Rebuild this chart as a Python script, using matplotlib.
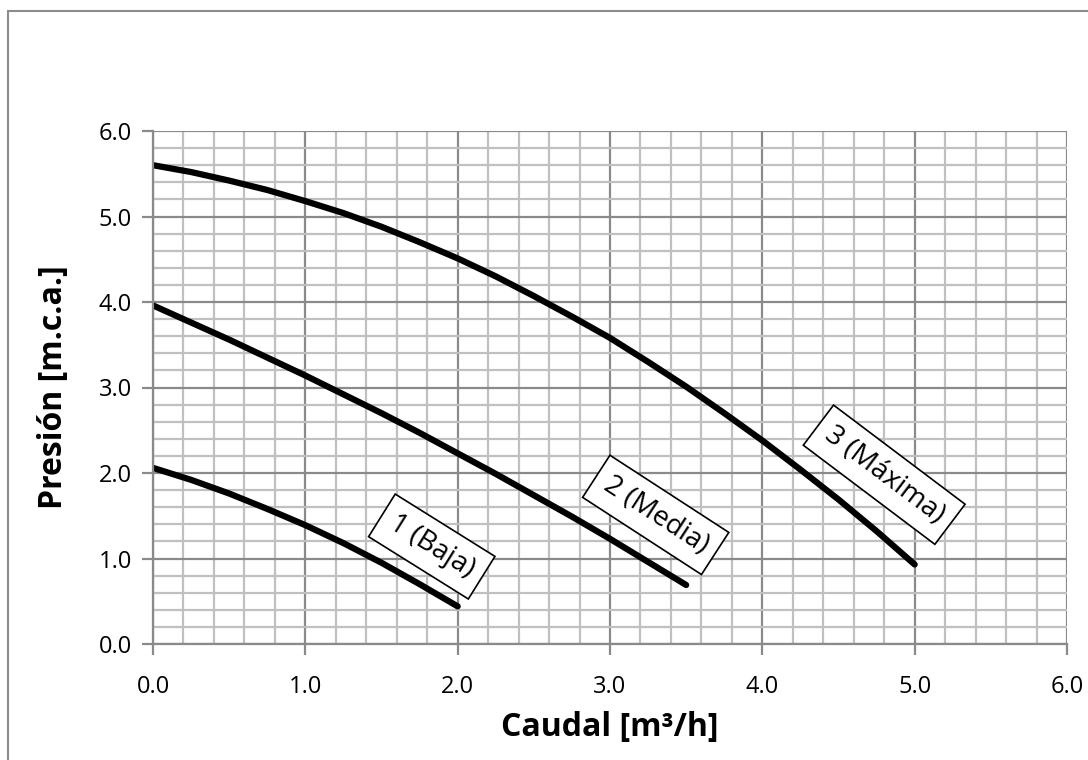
import matplotlib
matplotlib.use("Agg")
import matplotlib.pyplot as plt
from matplotlib.ticker import MultipleLocator, FormatStrFormatter
from matplotlib.patches import Rectangle

# Data
q_baja = [0.0, 0.25, 0.5, 0.75, 1.0, 1.25, 1.5, 1.75, 2.0]
h_baja = [2.06, 1.92, 1.76, 1.58, 1.39, 1.18, 0.95, 0.70, 0.44]

q_media = [0.0, 0.25, 0.5, 0.75, 1.0, 1.25, 1.5, 1.75, 2.0, 2.25, 2.5, 2.75, 3.0, 3.25, 3.5]
h_media = [3.96, 3.76, 3.56, 3.35, 3.14, 2.92, 2.70, 2.47, 2.23, 1.99, 1.74, 1.49, 1.23, 0.96, 0.69]

q_maxima = [0.0, 0.25, 0.5, 0.75, 1.0, 1.25, 1.5, 1.75, 2.0, 2.25, 2.5, 2.75,
            3.0, 3.25, 3.5, 3.75, 4.0, 4.25, 4.5, 4.75, 5.0]
h_maxima = [5.60, 5.52, 5.42, 5.31, 5.18, 5.04, 4.88, 4.70, 4.51, 4.30, 4.07, 3.83,
            3.58, 3.30, 3.01, 2.70, 2.38, 2.04, 1.69, 1.32, 0.93]

labels = ["1 (Baja)", "2 (Media)", "3 (Máxima)"]
label_pos = [(1.83, 1.14), (3.30, 1.51), (4.80, 1.98)]
label_rot = [-32, -33, -37]

x_ticks = [0.0, 1.0, 2.0, 3.0, 4.0, 5.0, 6.0]
y_ticks = [0.0, 1.0, 2.0, 3.0, 4.0, 5.0, 6.0]

plt.rcParams['font.family'] = ['Open Sans', 'DejaVu Sans']

fig = plt.figure(figsize=(10.88, 7.6), dpi=100)
# outer chart border (partially cropped in reference)
fig.patches.append(Rectangle((8/1088, -0.1), 1.2, 1 - 11/760 + 0.1,
                             transform=fig.transFigure, fill=False,
                             edgecolor='#8c8c8c', linewidth=1.5))

ax = fig.add_axes([153/1088, 1 - 644/760, (1067 - 153)/1088, (644 - 131)/760])

ax.set_xlim(0, 6)
ax.set_ylim(0, 6)
ax.set_xticks(x_ticks)
ax.set_yticks(y_ticks)
ax.xaxis.set_minor_locator(MultipleLocator(0.2))
ax.yaxis.set_minor_locator(MultipleLocator(0.2))
ax.xaxis.set_major_formatter(FormatStrFormatter('%.1f'))
ax.yaxis.set_major_formatter(FormatStrFormatter('%.1f'))

ax.grid(which='minor', color='#c0c0c0', linewidth=1.6)
ax.grid(which='major', color='#8a8a8a', linewidth=1.6)
ax.set_axisbelow(True)

for s in ['top', 'right']:
    ax.spines[s].set_visible(False)
ax.spines['left'].set_color('#8a8a8a')
ax.spines['bottom'].set_color('#8a8a8a')
ax.spines['left'].set_linewidth(1.6)
ax.spines['bottom'].set_linewidth(1.6)

ax.tick_params(which='major', length=8, width=1.6, color='#8a8a8a',
               labelsize=17, pad=7)
ax.tick_params(which='minor', length=0)
ax.tick_params(axis='x', pad=14)

for q, h in [(q_baja, h_baja), (q_media, h_media), (q_maxima, h_maxima)]:
    ax.plot(q, h, color='black', linewidth=4.5, solid_capstyle='round',
            solid_joinstyle='round')

for t, (x, y), r in zip(labels, label_pos, label_rot):
    ax.text(x, y, t, rotation=r, rotation_mode='anchor', ha='center', va='center',
            fontsize=20,
            bbox=dict(boxstyle='square,pad=0.4', facecolor='white',
                      edgecolor='black', linewidth=1.2))

ax.set_xlabel('Caudal [m³/h]', fontsize=23, fontweight='bold')
ax.set_ylabel('Presión [m.c.a.]', fontsize=23, fontweight='bold')
ax.xaxis.set_label_coords(0.5, (644 - 727) / 513)
ax.xaxis.label.set_va('center')
ax.yaxis.set_label_coords((54 - 153) / 914, 0.5)
ax.yaxis.label.set_va('center')

fig.savefig('out.png', dpi=100)
